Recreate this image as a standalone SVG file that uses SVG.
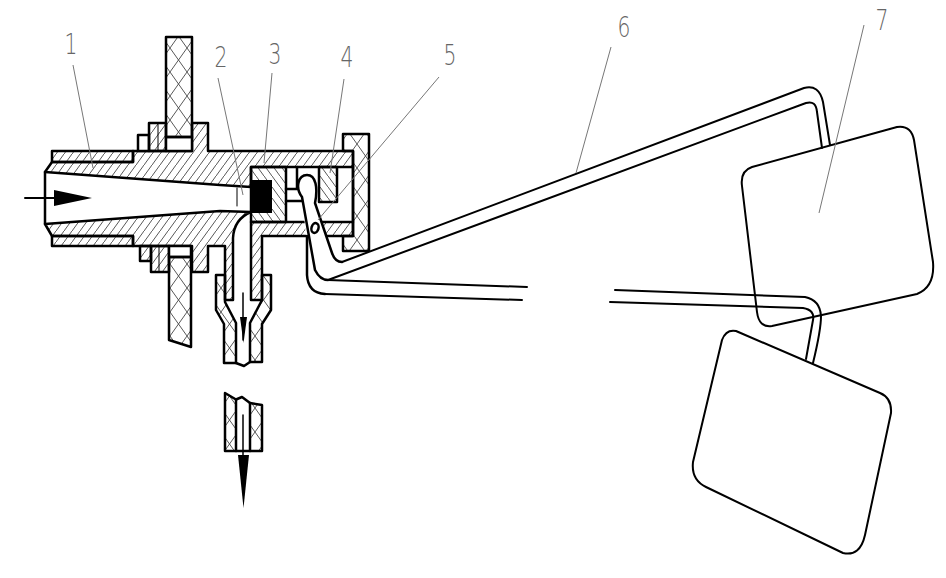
<svg xmlns="http://www.w3.org/2000/svg" width="946" height="578" viewBox="0 0 946 578">
<style>
.o{fill:none;stroke:#000;stroke-width:2.500;stroke-linejoin:round;stroke-linecap:round}
.t{stroke-width:2}
.h{fill:url(#hatch);stroke:#000;stroke-width:2.500;stroke-linejoin:round}
.g{fill:url(#hatch2);stroke:#000;stroke-width:2.500;stroke-linejoin:round}
.x{fill:url(#cross);stroke:#000;stroke-width:2.500;stroke-linejoin:round}
.w{fill:#fff;stroke:#000;stroke-width:2.500;stroke-linejoin:round}
.l{fill:none;stroke:#777;stroke-width:1}
.n{font-family:"DejaVu Sans","Liberation Sans",sans-serif;font-weight:200;font-size:29px;fill:#666;text-anchor:middle}
</style>
<defs>
<pattern id="hatch" width="8" height="11" patternUnits="userSpaceOnUse"><path d="M-1,12.400 L9,-1.400" stroke="#444" stroke-width=".9" fill="none"/></pattern>
<pattern id="hatch2" width="8" height="11" patternUnits="userSpaceOnUse"><path d="M-1,-1.400 L9,12.400" stroke="#444" stroke-width=".9" fill="none"/></pattern>
<pattern id="cross" width="17" height="24" patternUnits="userSpaceOnUse"><path d="M0,0 L17,24 M17,0 L0,24" stroke="#444" stroke-width=".9" fill="none"/></pattern>
</defs>
<rect width="946" height="578" fill="#fff"/>
<g id="body">
<path class="h" d="M45,172 L52,162 H133 V151 H192 V123 H208 V151 H353 V167 H251 V187 L220,185 Z"/>
<path class="h" d="M45,224 L52,236 H133 V246 H192 V272 H208 V246 H225 V300 H233 V238 Q234,219 251,212 L220,211 Z"/>
<path class="g" d="M251,167 H286 V222 H251 Z"/>
<path class="h" d="M251,222 H353 V236 H262 V300 H251 Z"/>
<rect class="h" x="52" y="151" width="81" height="11"/>
<rect class="h" x="52" y="236" width="81" height="10"/>
<path class="o" d="M45,172 V224"/>
<path class="o" style="stroke-width:1" d="M237,188 V206"/>
<rect id="valve" x="252" y="180" width="20" height="33" fill="#000"/>
<rect class="g" x="319" y="167" width="18" height="35"/>
<path class="o" d="M297,167 V189 M286,189 H303 M286,201 H303 M353,167 V222"/>
</g>
<g id="flanges">
<path class="w" d="M138,151 V135 H149 V151 Z"/>
<path class="h" d="M149,151 V123 H166 V151 Z"/>
<path class="o" style="stroke-width:1" d="M158,123 V151"/>
<path class="w" d="M166,137 H192 V151 H166 Z"/>
<rect class="x" x="166" y="37" width="26" height="100"/>
<path class="h" d="M140,246 H151 V261 H140 Z"/>
<path class="h" d="M151,246 H169 V272 H151 Z"/>
<path class="o" style="stroke-width:1" d="M159,246 V272"/>
<path class="w" d="M169,246 H191 V257 H169 Z"/>
<path class="x" d="M169,257 H191 V347 L169,340 Z"/>
</g>
<g id="plate">
<path class="x" d="M343,151 V134 H369 V251 H343 V236 H353 V151 Z"/>
</g>
<g id="hose-upper">
<path class="x" d="M216,275 H225 V302 L236,323 V363 H224 V324 L216,310 Z"/>
<path class="x" d="M271,275 H262 V300 L250,323 V362 H262 V324 L271,310 Z"/>
<path class="o" d="M236,363 L244,366 L250,362"/>
</g>
<g id="hose-lower">
<path class="x" d="M225,393 L236,399.500 V451 H225 Z"/>
<path class="x" d="M250,403 L262,405 V451 H250 Z"/>
<path class="o" d="M236,399.500 L242,397 L250,403 M236,451 H250"/>
</g>
<g id="lever">
<path d="M302,197 C295,188 298,175 307,175 C316,175 318,188 315,203 L332,253 Q336,262 342,262 L390,244 L390,282 L328,280 Q320,278 315,270 L307,245 L302,197 Z" fill="#fff" stroke="none"/>
<path class="o" d="M302,197 C295,188 298,175 307,175 C316,175 318,188 315,203 L332,253 Q335,262 342,262 M302,197 L315,270 Q320,280 328,280"/>
<ellipse class="o" cx="315" cy="228" rx="3.500" ry="5" transform="rotate(15 315 228)"/>
<path class="o" d="M307,236 V275 Q308,293 325,294"/>
</g>
<g id="connectors">
<path class="o t" d="M342,262 L804,88 Q819,84 823,102 L830,145"/>
<path class="o t" d="M328,280 L806,103 Q816,100 817,112 L822,148"/>
<path class="o t" d="M328,280 L527,287 M325,294 L522,300"/>
<path class="o t" d="M615,290 L805,297 Q820,300 821,316 Q821,330 813,363"/>
<path class="o t" d="M610,302 L803,308 Q815,310 813,320 L806,359"/>
</g>
<g id="pad-7">
<path class="o t" d="M752,167 L897,127 Q911,125 914,140 L933,262 Q935,287 917,294 L772,326 Q759,328 757,312 L742,186 Q740,171 752,167 Z"/>
</g>
<g id="pad-lower">
<path class="o t" d="M736,331 L880,393 Q892,398 891,413 L865,535 Q860,557 843,553 L706,487 Q691,480 693,462 L722,340 Q726,329 736,331 Z"/>
</g>
<g id="arrows">
<path class="o" style="stroke-width:2" d="M25,198 H56"/>
<path d="M54,190 L92,198 L54,206 Z" fill="#000"/>
<path class="o" style="stroke-width:1.500" d="M243,293 V340"/>
<path d="M240,317 H247 L243.500,343 Z" fill="#000"/>
<path class="o" style="stroke-width:1.500" d="M243,415 V456"/>
<path d="M238,455 H249 L243.500,508 Z" fill="#000"/>
</g>
<g id="leaders">
<path class="l" d="M73,65 L93,168"/>
<path class="l" d="M218,78 L243,195"/>
<path class="l" d="M272,73 L264,163"/>
<path class="l" d="M344,79 L330,173"/>
<path class="l" d="M439,77 L318,220"/>
<path class="l" d="M611,47 L576,173"/>
<path class="l" d="M864,25 L819,213"/>
</g>
<g id="labels">
<text class="n" transform="translate(71,54) scale(.7,1)">1</text>
<text class="n" transform="translate(221,67) scale(.7,1)">2</text>
<text class="n" transform="translate(275,64) scale(.7,1)">3</text>
<text class="n" transform="translate(347,67) scale(.7,1)">4</text>
<text class="n" transform="translate(450,65) scale(.7,1)">5</text>
<text class="n" transform="translate(624,37) scale(.7,1)">6</text>
<text class="n" transform="translate(882,30) scale(.7,1)">7</text>
</g>
</svg>
